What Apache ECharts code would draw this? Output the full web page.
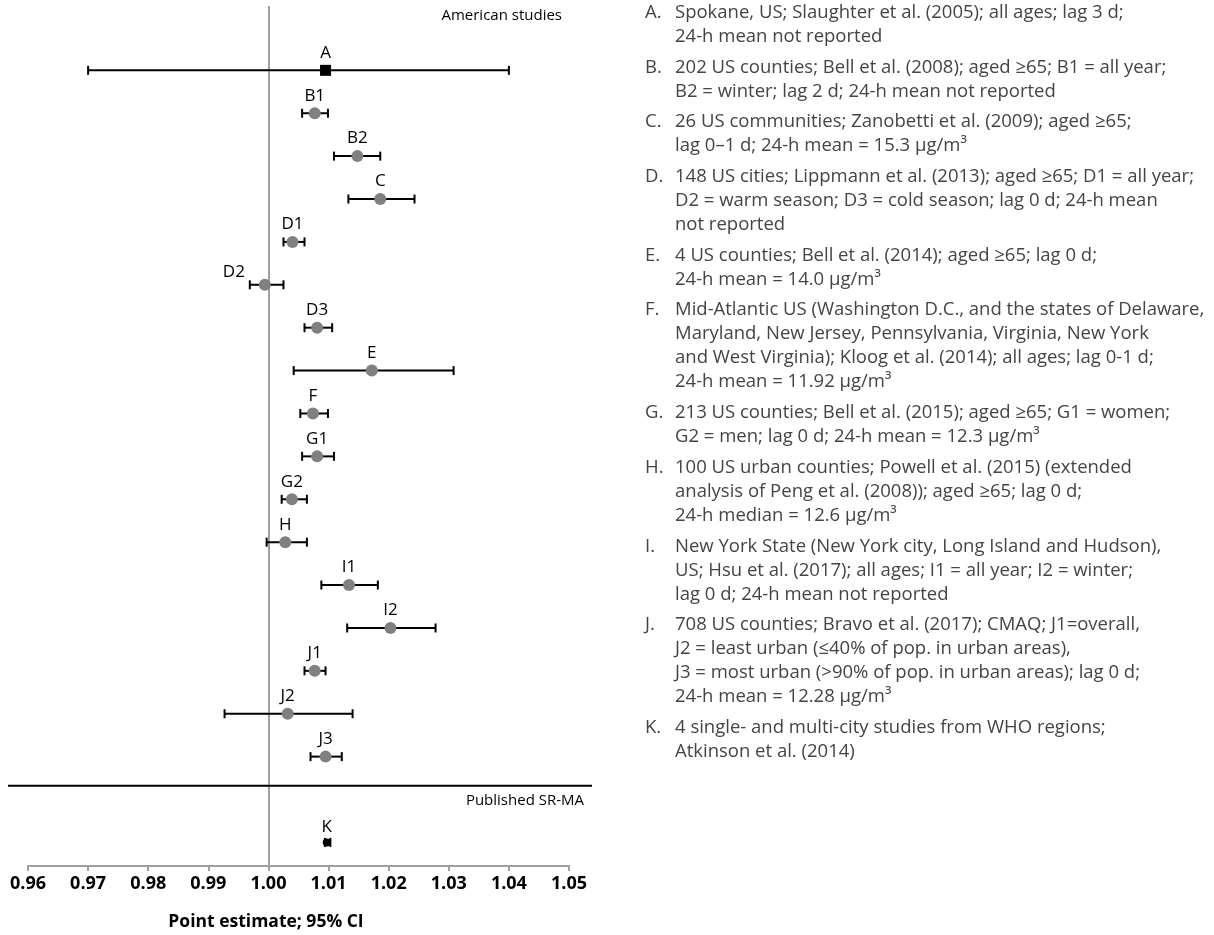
<!DOCTYPE html>
<html>
<head>
<meta charset="utf-8">
<script src="https://cdn.jsdelivr.net/npm/echarts@6/dist/echarts.min.js"></script>
<style>
  html, body { margin: 0; padding: 0; background: #fff; }
  #chart { width: 1214px; height: 935px; }
</style>
</head>
<body>
<div id="chart"></div>
<script>
// Study labels, in plotting order (top to bottom)
const studyLabels = ['A', 'B1', 'B2', 'C', 'D1', 'D2', 'D3', 'E', 'F', 'G1', 'G2', 'H', 'I1', 'I2', 'J1', 'J2', 'J3', 'K'];
// Row index of each study; K sits in its own block below the divider
const studyRows = [0, 1, 2, 3, 4, 5, 6, 7, 8, 9, 10, 11, 12, 13, 14, 15, 16, 18];
// Point estimates and 95% confidence limits
const pointEstimates = [1.0095, 1.0077, 1.0148, 1.0186, 1.0040, 0.9994, 1.0081, 1.0172, 1.0074, 1.0081, 1.0039, 1.0028, 1.0134, 1.0203, 1.0077, 1.0032, 1.0095, 1.0097];
const lowerCI = [0.9700, 1.0056, 1.0109, 1.0133, 1.0025, 0.9969, 1.0060, 1.0042, 1.0053, 1.0056, 1.0022, 0.9997, 1.0088, 1.0131, 1.0060, 0.9927, 1.0070, 1.0094];
const upperCI = [1.0400, 1.0099, 1.0186, 1.0243, 1.0060, 1.0025, 1.0106, 1.0308, 1.0099, 1.0109, 1.0064, 1.0064, 1.0182, 1.0278, 1.0095, 1.0140, 1.0122, 1.0103];
// Row position of the divider between the two groups of studies
const groupDividerRow = 16.68;
// Axis ticks
const xTicks = ['0.96', '0.97', '0.98', '0.99', '1.00', '1.01', '1.02', '1.03', '1.04', '1.05'];
const nullEffect = 1.0;

// Study descriptions shown beside the plot
const noteLetters = ['A.', 'B.', 'C.', 'D.', 'E.', 'F.', 'G.', 'H.', 'I.', 'J.', 'K.'];
const noteTexts = [
  'Spokane, US; Slaughter et al. (2005); all ages; lag 3 d;\n24-h mean not reported',
  '202 US counties; Bell et al. (2008); aged ≥65; B1 = all year;\nB2 = winter; lag 2 d; 24-h mean not reported',
  '26 US communities; Zanobetti et al. (2009); aged ≥65;\nlag 0–1 d; 24-h mean = 15.3 µg/m³',
  '148 US cities; Lippmann et al. (2013); aged ≥65; D1 = all year;\nD2 = warm season; D3 = cold season; lag 0 d; 24-h mean\nnot reported',
  '4 US counties; Bell et al. (2014); aged ≥65; lag 0 d;\n24-h mean = 14.0 µg/m³',
  'Mid-Atlantic US (Washington D.C., and the states of Delaware,\nMaryland, New Jersey, Pennsylvania, Virginia, New York\nand West Virginia); Kloog et al. (2014); all ages; lag 0-1 d;\n24-h mean = 11.92 µg/m³',
  '213 US counties; Bell et al. (2015); aged ≥65; G1 = women;\nG2 = men; lag 0 d; 24-h mean = 12.3 µg/m³',
  '100 US urban counties; Powell et al. (2015) (extended\nanalysis of Peng et al. (2008)); aged ≥65; lag 0 d;\n24-h median = 12.6 µg/m³',
  'New York State (New York city, Long Island and Hudson),\nUS; Hsu et al. (2017); all ages; I1 = all year; I2 = winter;\nlag 0 d; 24-h mean not reported',
  '708 US counties; Bravo et al. (2017); CMAQ; J1=overall,\nJ2 = least urban (≤40% of pop. in urban areas),\nJ3 = most urban (>90% of pop. in urban areas); lag 0 d;\n24-h mean = 12.28 µg/m³',
  '4 single- and multi-city studies from WHO regions;\nAtkinson et al. (2014)'
];

const chart = echarts.init(document.getElementById('chart'), null, { renderer: 'canvas' });

const labelFont = '"Open Sans", "Noto Sans", sans-serif';
const noteFont = '"Open Sans", "Noto Sans", sans-serif';

// Error bars with end caps
const ciData = studyLabels.map((s, i) => [lowerCI[i], upperCI[i], studyRows[i]]);
function renderCI(params, api) {
  const lo = api.coord([api.value(0), api.value(2)]);
  const hi = api.coord([api.value(1), api.value(2)]);
  const cap = 4.5;
  const st = { stroke: '#000', lineWidth: 2 };
  return {
    type: 'group',
    children: [
      { type: 'line', shape: { x1: lo[0], y1: lo[1], x2: hi[0], y2: hi[1] }, style: st },
      { type: 'line', shape: { x1: lo[0], y1: lo[1] - cap, x2: lo[0], y2: lo[1] + cap }, style: st },
      { type: 'line', shape: { x1: hi[0], y1: hi[1] - cap, x2: hi[0], y2: hi[1] + cap }, style: st }
    ]
  };
}

// Point markers: square for A, black dot for K, grey dots otherwise
const pointData = studyLabels.map((s, i) => {
  const item = { value: [pointEstimates[i], studyRows[i]], name: s };
  if (s === 'A') {
    item.symbol = 'rect';
    item.symbolSize = 11;
    item.itemStyle = { color: '#000' };
  } else if (s === 'K') {
    item.symbolSize = 8;
    item.itemStyle = { color: '#000' };
  }
  if (s === 'D2') {
    item.label = { offset: [-31, 5] };
  }
  return item;
});

// Divider spanning slightly beyond the plotting area
function renderDivider(params, api) {
  const p = api.coord([0.96, api.value(0)]);
  const cs = params.coordSys;
  return {
    type: 'line',
    shape: { x1: cs.x - 20, y1: p[1], x2: cs.x + cs.width + 23, y2: p[1] },
    style: { stroke: '#000', lineWidth: 2 }
  };
}

// Description block layout
const noteGraphics = [];
let noteTop = 0.7;
const lineH = 24;
noteTexts.forEach((t, i) => {
  const nLines = t.split('\n').length;
  noteGraphics.push({
    type: 'text', left: 645, top: noteTop,
    style: { text: noteLetters[i], font: '18.5px ' + noteFont, fill: '#444', lineHeight: lineH }
  });
  noteGraphics.push({
    type: 'text', left: 675, top: noteTop,
    style: { text: t, font: '18.5px ' + noteFont, fill: '#444', lineHeight: lineH }
  });
  noteTop += nLines * lineH + 6.7;
});

const option = {
  animation: false,
  grid: { left: 28, right: 645, top: 6, bottom: 69, containLabel: false },
  xAxis: {
    type: 'value',
    min: 0.96, max: 1.05, interval: 0.01,
    axisLine: { show: true, onZero: false, lineStyle: { color: '#a0a0a0', width: 2 } },
    axisTick: { show: true, length: 5, lineStyle: { color: '#a0a0a0', width: 2 } },
    splitLine: { show: false },
    axisLabel: {
      margin: 9,
      color: '#000',
      fontWeight: 'bold',
      fontSize: 18,
      fontFamily: noteFont,
      formatter: v => xTicks[Math.round((v - 0.96) * 100)] || ''
    }
  },
  yAxis: {
    type: 'value', inverse: true, min: -1.5, max: 18.55,
    show: false, splitLine: { show: false }
  },
  series: [
    {
      type: 'custom',
      renderItem: renderDivider,
      data: [[groupDividerRow]],
      silent: true, z: 1
    },
    {
      type: 'custom',
      renderItem: renderCI,
      data: ciData,
      encode: { x: [0, 1], y: 2 },
      silent: true, z: 2,
      markLine: {
        silent: true, symbol: 'none', label: { show: false },
        lineStyle: { color: '#a0a0a0', width: 2, type: 'solid' },
        data: [{ xAxis: nullEffect }],
        z: 1
      }
    },
    {
      type: 'scatter',
      data: pointData,
      symbol: 'circle',
      symbolSize: 12,
      itemStyle: { color: '#808080', opacity: 1 },
      z: 3,
      label: {
        show: true,
        position: 'top',
        distance: 3,
        formatter: p => p.name,
        color: '#000',
        fontSize: 17,
        fontFamily: labelFont
      }
    }
  ],
  graphic: [
    {
      type: 'text', right: 1214 - 562, top: 8,
      style: { text: 'American studies', font: '15px ' + labelFont, fill: '#000' }
    },
    {
      type: 'text', right: 1214 - 584, top: 793,
      style: { text: 'Published SR-MA', font: '15px ' + labelFont, fill: '#000' }
    },
    {
      type: 'text', x: 266, y: 922,
      style: { text: 'Point estimate; 95% CI', font: 'bold 17.5px ' + noteFont, fill: '#000', textAlign: 'center', textVerticalAlign: 'middle' }
    }
  ].concat(noteGraphics)
};

chart.setOption(option);
</script>
</body>
</html>
